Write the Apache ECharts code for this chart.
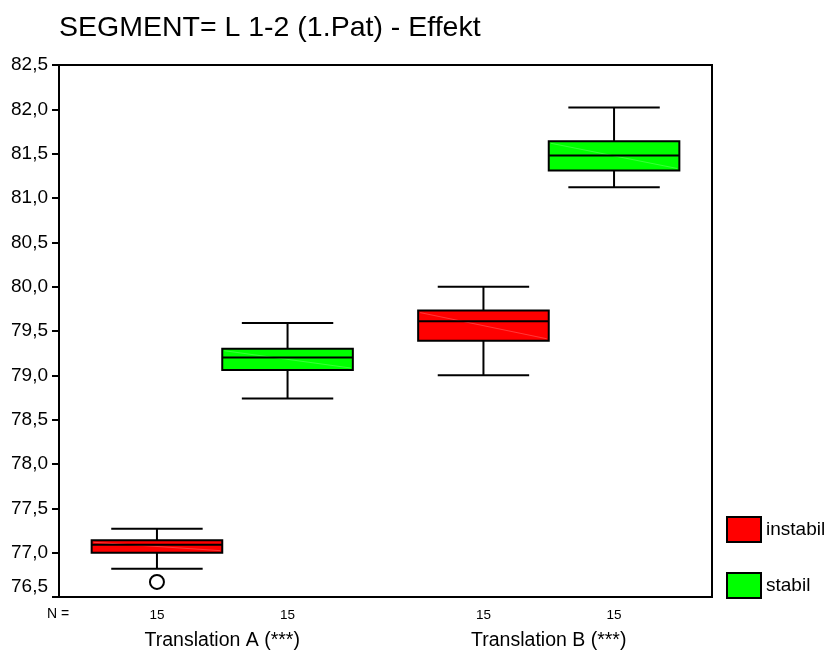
<!DOCTYPE html>
<html>
<head>
<meta charset="utf-8">
<script src="https://cdn.jsdelivr.net/npm/echarts@6/dist/echarts.min.js"></script>
<style>
  html, body { margin: 0; padding: 0; background: #fff; }
  #main { width: 830px; height: 655px; }
</style>
</head>
<body>
<div id="main"></div>
<script>
// categories and sample sizes
var categories = ['Translation A (***)', 'Translation B (***)']
var nInstabil = [15, 15]
var nStabil = [15, 15]

// box statistics per category
var instabilLow = [76.82, 79.0]
var instabilQ1 = [77.0, 79.39]
var instabilMed = [77.09, 79.61]
var instabilQ3 = [77.14, 79.73]
var instabilHigh = [77.27, 80.0]

var stabilLow = [78.74, 81.12]
var stabilQ1 = [79.06, 81.31]
var stabilMed = [79.2, 81.48]
var stabilQ3 = [79.3, 81.64]
var stabilHigh = [79.59, 82.02]

// outliers: [category index, value]
var instabilOutliers = [[0, 76.67]]

var yTicks = [76.5, 77, 77.5, 78, 78.5, 79, 79.5, 80, 80.5, 81, 81.5, 82, 82.5]

var FONT = 'Liberation Sans, Arial, sans-serif'

function buildBoxData(low, q1, med, q3, high, n) {
  var out = []
  for (var i = 0; i < categories.length; i++) {
    out.push([i, low[i], q1[i], med[i], q3[i], high[i], n[i]])
  }
  return out
}

// side: -1 left half of the band, +1 right half
function makeBoxRenderer(side, color) {
  return function (params, api) {
    var ci = api.value(0)
    var band = api.size([1, 0])[0]
    var bw = band * 0.4
    var cx = api.coord([ci, api.value(3)])[0] + side * bw / 2
    var yLow = api.coord([ci, api.value(1)])[1]
    var yQ1 = api.coord([ci, api.value(2)])[1]
    var yMed = api.coord([ci, api.value(3)])[1]
    var yQ3 = api.coord([ci, api.value(4)])[1]
    var yHigh = api.coord([ci, api.value(5)])[1]
    var cap = bw * 0.35
    var line = { stroke: '#000', lineWidth: 2 }
    var cs = params.coordSys
    return {
      type: 'group',
      children: [
        { type: 'line', shape: { x1: cx, y1: yHigh, x2: cx, y2: yQ3 }, style: line },
        { type: 'line', shape: { x1: cx, y1: yQ1, x2: cx, y2: yLow }, style: line },
        { type: 'line', shape: { x1: cx - cap, y1: yHigh, x2: cx + cap, y2: yHigh }, style: line },
        { type: 'line', shape: { x1: cx - cap, y1: yLow, x2: cx + cap, y2: yLow }, style: line },
        {
          type: 'rect',
          shape: { x: cx - bw / 2, y: yQ3, width: bw, height: yQ1 - yQ3 },
          style: { fill: color, stroke: '#000', lineWidth: 2 }
        },
        {
          type: 'line',
          shape: { x1: cx - bw / 2 + 2, y1: yQ3 + 2, x2: cx + bw / 2 - 2, y2: yQ1 - 2 },
          style: { stroke: 'rgba(255,255,255,0.22)', lineWidth: 1 }
        },
        { type: 'line', shape: { x1: cx - bw / 2, y1: yMed, x2: cx + bw / 2, y2: yMed }, style: line },
        {
          type: 'text',
          x: cx,
          y: cs.y + cs.height + 18,
          style: {
            text: String(api.value(6)),
            fontSize: 13.5,
            fontFamily: FONT,
            fill: '#000',
            align: 'center',
            verticalAlign: 'middle'
          }
        }
      ]
    }
  }
}

function renderOutlier(params, api) {
  var ci = api.value(0)
  var bw = api.size([1, 0])[0] * 0.4
  var p = api.coord([ci, api.value(1)])
  return {
    type: 'circle',
    shape: { cx: p[0] - bw / 2, cy: p[1], r: 7 },
    style: { fill: '#fff', stroke: '#000', lineWidth: 2 }
  }
}

var myChart = echarts.init(document.getElementById('main'))
var option = {
  animation: false,
  title: {
    text: 'SEGMENT= L 1-2 (1.Pat) - Effekt',
    left: 59,
    top: 14,
    padding: 0,
    textStyle: { fontSize: 28.5, fontWeight: 'normal', color: '#000', fontFamily: FONT }
  },
  legend: {
    data: ['instabil', 'stabil'],
    orient: 'vertical',
    left: 726,
    top: 516,
    padding: 0,
    itemWidth: 34,
    itemHeight: 25,
    itemGap: 29,
    icon: 'rect',
    itemStyle: { borderColor: '#000', borderWidth: 2 },
    textStyle: { fontSize: 19, color: '#000', fontFamily: FONT }
  },
  graphic: [
    {
      type: 'text',
      left: 47,
      top: 607,
      style: { text: 'N =', fontSize: 14, fill: '#000', fontFamily: FONT }
    }
  ],
  grid: {
    left: 59,
    right: 118,
    top: 65,
    bottom: 58,
    show: true,
    borderColor: '#000',
    borderWidth: 2,
    outerBoundsMode: 'none'
  },
  xAxis: {
    type: 'category',
    data: categories,
    boundaryGap: true,
    axisLine: { lineStyle: { color: '#000', width: 2 } },
    axisTick: { alignWithLabel: true, length: 6, lineStyle: { color: '#000', width: 2 } },
    axisLabel: { margin: 34, fontSize: 19.5, color: '#000', fontFamily: FONT },
    splitLine: { show: false }
  },
  yAxis: {
    type: 'value',
    min: yTicks[0],
    max: yTicks[yTicks.length - 1],
    interval: 0.5,
    axisLine: { show: true, lineStyle: { color: '#000', width: 2 } },
    axisTick: { show: true, length: 7, lineStyle: { color: '#000', width: 2 } },
    splitLine: { show: false },
    axisLabel: {
      margin: 11,
      fontSize: 19,
      color: '#000',
      fontFamily: FONT,
      formatter: function (v) {
        var s = v.toFixed(1).replace('.', ',')
        return v === yTicks[0] ? '{b|' + s + '}' : s
      },
      rich: {
        b: { fontSize: 19, color: '#000', fontFamily: FONT, padding: [0, 0, 20, 0] }
      }
    }
  },
  series: [
    {
      name: 'instabil',
      type: 'custom',
      renderItem: makeBoxRenderer(-1, '#ff0000'),
      itemStyle: { color: '#ff0000' },
      encode: { x: 0, y: [1, 2, 3, 4, 5] },
      data: buildBoxData(instabilLow, instabilQ1, instabilMed, instabilQ3, instabilHigh, nInstabil)
    },
    {
      name: 'stabil',
      type: 'custom',
      renderItem: makeBoxRenderer(1, '#00ff00'),
      itemStyle: { color: '#00ff00' },
      encode: { x: 0, y: [1, 2, 3, 4, 5] },
      data: buildBoxData(stabilLow, stabilQ1, stabilMed, stabilQ3, stabilHigh, nStabil)
    },
    {
      name: 'instabil',
      type: 'custom',
      renderItem: renderOutlier,
      itemStyle: { color: '#ff0000' },
      encode: { x: 0, y: 1 },
      data: instabilOutliers
    }
  ]
}

option && myChart.setOption(option)
</script>
</body>
</html>
